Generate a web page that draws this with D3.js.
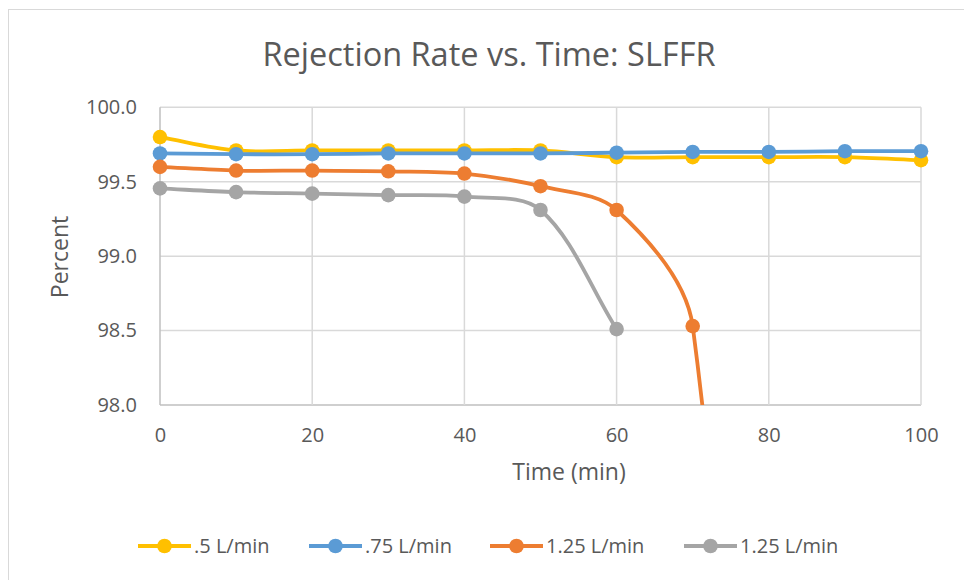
<!DOCTYPE html>
<html>
<head>
<meta charset="utf-8">
<script src="https://cdn.jsdelivr.net/npm/d3@7"></script>
<style>
  html, body { margin: 0; padding: 0; background: #fff; }
  svg { display: block; font-family: "Open Sans", Lato, sans-serif; }
</style>
</head>
<body>
<svg id="chart" width="964" height="580"></svg>
<script>
// Sample times (min)
const times = [0, 10, 20, 30, 40, 50, 60, 70, 80, 90, 100];

// Rejection rate (%) per flow rate
const flow050 = [99.80, 99.71, 99.71, 99.71, 99.71, 99.71, 99.665, 99.665, 99.665, 99.665, 99.645];
const flow075 = [99.69, 99.685, 99.685, 99.69, 99.69, 99.69, 99.695, 99.70, 99.70, 99.705, 99.705];
const flow125a = [99.60, 99.575, 99.575, 99.57, 99.555, 99.47, 99.31, 98.53, 91.5];
const flow125b = [99.455, 99.43, 99.42, 99.41, 99.40, 99.31, 98.51];

const seriesNames = [".5 L/min", ".75 L/min", "1.25 L/min", "1.25 L/min"];
const seriesColors = ["#FFC000", "#5B9BD5", "#ED7D31", "#A5A5A5"];
const seriesValues = [flow050, flow075, flow125a, flow125b];

const xTicks = [0, 20, 40, 60, 80, 100];
const yTicks = [98.0, 98.5, 99.0, 99.5, 100.0];

const svg = d3.select("#chart");
const textColor = "#595959";

// Chart area frame
svg.append("rect")
  .attr("x", 8.5).attr("y", 9.5)
  .attr("width", 1200).attr("height", 800)
  .attr("fill", "#fff").attr("stroke", "#d9d9d9").attr("stroke-width", 1);

const plot = { left: 160, right: 921, top: 107.3, bottom: 405 };

const x = d3.scaleLinear().domain([0, 100]).range([plot.left, plot.right]);
const y = d3.scaleLinear().domain([98, 100]).range([plot.bottom, plot.top]);

// Title
svg.append("text")
  .attr("x", 489).attr("y", 66)
  .attr("text-anchor", "middle")
  .attr("fill", textColor)
  .attr("font-size", 32.5)
  .text("Rejection Rate vs. Time: SLFFR");

// Gridlines
const grid = svg.append("g");
grid.selectAll("line.h").data(yTicks).join("line")
  .attr("x1", plot.left).attr("x2", plot.right)
  .attr("y1", d => y(d)).attr("y2", d => y(d))
  .attr("stroke", d => d === 98 ? "#bfbfbf" : "#d9d9d9").attr("stroke-width", 1.5);
grid.selectAll("line.v").data(xTicks).join("line")
  .attr("y1", plot.top).attr("y2", plot.bottom)
  .attr("x1", d => x(d)).attr("x2", d => x(d))
  .attr("stroke", d => d === 0 ? "#bfbfbf" : "#d9d9d9").attr("stroke-width", 1.5);

// Axes (labels only; lines drawn by the grid)
const yAxis = svg.append("g")
  .attr("transform", `translate(${plot.left - 23},0)`)
  .call(d3.axisLeft(y).tickValues(yTicks).tickFormat(d3.format(".1f")).tickSize(0).tickPadding(0));
const xAxis = svg.append("g")
  .attr("transform", `translate(0,${plot.bottom + 23})`)
  .call(d3.axisBottom(x).tickValues(xTicks).tickFormat(d3.format("d")).tickSize(0).tickPadding(0));
[yAxis, xAxis].forEach(g => {
  g.select(".domain").remove();
  g.selectAll("text")
    .attr("fill", textColor)
    .attr("font-size", 20)
    .attr("font-family", "'Open Sans', Lato, sans-serif");
});
xAxis.selectAll("text").attr("dy", "0.71em");

// Axis titles
svg.append("text")
  .attr("transform", "translate(68,257) rotate(-90)")
  .attr("text-anchor", "middle")
  .attr("fill", textColor)
  .attr("font-size", 23)
  .text("Percent");
svg.append("text")
  .attr("x", 569).attr("y", 480)
  .attr("text-anchor", "middle")
  .attr("fill", textColor)
  .attr("font-size", 23)
  .text("Time (min)");

// Smoothed path: cubic Bezier segments whose tangents (P[i+1]-P[i-1])
// are weighted by the relative chord lengths, as in spreadsheet smoothed lines.
function smoothPath(pts) {
  const p = d3.path();
  const n = pts.length;
  const dist = (a, b) => Math.hypot(b[0] - a[0], b[1] - a[1]);
  const d = pts.slice(0, -1).map((q, i) => dist(q, pts[i + 1]));
  const tangent = i => {
    const a = pts[Math.max(0, i - 1)], b = pts[Math.min(n - 1, i + 1)];
    return [b[0] - a[0], b[1] - a[1]];
  };
  p.moveTo(pts[0][0], pts[0][1]);
  for (let i = 0; i < n - 1; i++) {
    const dPrev = i > 0 ? d[i - 1] : 0;
    const dNext = i < n - 2 ? d[i + 1] : 0;
    const t0 = tangent(i), t1 = tangent(i + 1);
    const f0 = d[i] / (3 * (dPrev + d[i]));
    const f1 = d[i] / (3 * (d[i] + dNext));
    p.bezierCurveTo(
      pts[i][0] + t0[0] * f0, pts[i][1] + t0[1] * f0,
      pts[i + 1][0] - t1[0] * f1, pts[i + 1][1] - t1[1] * f1,
      pts[i + 1][0], pts[i + 1][1]
    );
  }
  return p.toString();
}

// Series
svg.append("clipPath").attr("id", "plotClip")
  .append("rect")
  .attr("x", plot.left - 10).attr("y", plot.top - 10)
  .attr("width", plot.right - plot.left + 20)
  .attr("height", plot.bottom - plot.top + 10);

const series = seriesValues.map((vals, i) => ({
  name: seriesNames[i],
  color: seriesColors[i],
  points: vals.map((v, j) => ({ t: times[j], v }))
}));

const layer = svg.append("g").attr("clip-path", "url(#plotClip)");
series.forEach(s => {
  const g = layer.append("g");
  g.append("path")
    .attr("d", smoothPath(s.points.map(d => [x(d.t), y(d.v)])))
    .attr("fill", "none")
    .attr("stroke", s.color)
    .attr("stroke-width", 3.8)
    .attr("stroke-linejoin", "round")
    .attr("stroke-linecap", "round");
  g.selectAll("circle")
    .data(s.points.filter(p => p.v >= 98))
    .join("circle")
    .attr("cx", d => x(d.t)).attr("cy", d => y(d.v))
    .attr("r", 7.3)
    .attr("fill", s.color);
});

// Legend
const legendX = [138, 309, 490, 684];
const legend = svg.append("g").attr("transform", "translate(0,546)");
series.forEach((s, i) => {
  const g = legend.append("g").attr("transform", `translate(${legendX[i]},0)`);
  g.append("line").attr("x1", 0).attr("x2", 53).attr("y1", 0).attr("y2", 0)
    .attr("stroke", s.color).attr("stroke-width", 3.8);
  g.append("circle").attr("cx", 26.5).attr("cy", 0).attr("r", 7.3).attr("fill", s.color);
  g.append("text").attr("x", 56).attr("y", 0).attr("dy", "0.35em")
    .attr("fill", textColor).attr("font-size", 20).text(s.name);
});
</script>
</body>
</html>
